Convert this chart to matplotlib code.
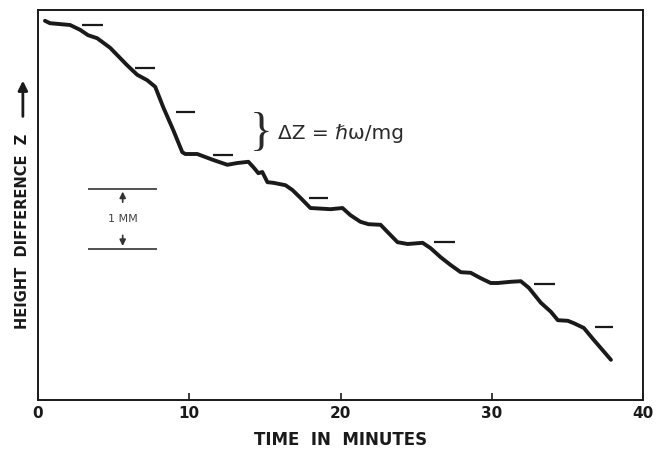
import matplotlib
matplotlib.use("Agg")
import matplotlib.pyplot as plt

# height difference trace (minutes, mm)
time_min = [0.46, 0.79, 2.12, 2.78, 3.31, 3.91, 4.77, 5.89, 6.56, 7.22, 7.75, 8.28,
            8.94, 9.54, 9.74, 10.53, 11.59, 12.52, 13.18, 13.91, 14.24, 14.57, 14.83,
            15.17, 15.56, 16.36, 16.82, 17.35, 18.01, 19.34, 20.13, 20.66, 21.32, 21.85,
            22.65, 23.11, 23.77, 24.44, 25.43, 25.96, 26.62, 27.28, 27.95, 28.61, 29.27,
            29.93, 30.40, 31.26, 31.92, 32.45, 33.25, 33.91, 34.37, 35.03, 35.43, 36.09,
            36.75, 37.88]
height_mm = [6.32, 6.28, 6.25, 6.17, 6.08, 6.03, 5.87, 5.58, 5.42, 5.33, 5.22, 4.88,
             4.50, 4.13, 4.10, 4.10, 4.00, 3.92, 3.95, 3.97, 3.88, 3.78, 3.80,
             3.63, 3.62, 3.58, 3.50, 3.37, 3.20, 3.18, 3.20, 3.08, 2.97, 2.93,
             2.92, 2.80, 2.63, 2.60, 2.62, 2.53, 2.38, 2.25, 2.13, 2.12, 2.03,
             1.95, 1.95, 1.97, 1.98, 1.87, 1.62, 1.47, 1.33, 1.32, 1.28, 1.20,
             1.00, 0.67]

# expected step levels (short dashes)
step_start = [2.9, 6.4, 9.1, 11.6, 17.9, 26.2, 32.8, 36.8]
step_end = [4.3, 7.75, 10.4, 12.9, 19.2, 27.6, 34.2, 38.0]
step_level = [6.25, 5.53, 4.80, 4.08, 3.37, 2.63, 1.93, 1.22]

# 1 mm scale bar
scale_x = [3.3, 7.9]
scale_low, scale_high = 2.52, 3.52

x_ticks = [0, 10, 20, 30, 40]
INK = "#1a1a1a"

fig = plt.figure(figsize=(6.57, 4.49), dpi=100)
ax = fig.add_axes([38 / 657, 49 / 449, 605 / 657, 390 / 449])

ax.plot(time_min, height_mm, color=INK, lw=2.8, solid_joinstyle="round",
        solid_capstyle="round")
ax.hlines(step_level, step_start, step_end, color=INK, lw=1.6)

# scale bar
ax.hlines([scale_low, scale_high], scale_x[0], scale_x[1], color="#333333", lw=1.2)
mid = sum(scale_x) / 2
gap = scale_high - scale_low
ax.annotate("", xy=(mid, scale_high), xytext=(mid, scale_high - 0.27 * gap),
            arrowprops=dict(arrowstyle="-|>", color="#333333", lw=1.2, mutation_scale=9))
ax.annotate("", xy=(mid, scale_low), xytext=(mid, scale_low + 0.27 * gap),
            arrowprops=dict(arrowstyle="-|>", color="#333333", lw=1.2, mutation_scale=9))
ax.text(mid, (scale_low + scale_high) / 2, "1 MM", ha="center", va="center",
        fontsize=8, color="#444444")

# brace and quantum step label
brace_y = (step_level[2] + step_level[3]) / 2
ax.text(14.75, brace_y, "}", ha="center", va="center", fontsize=34,
        family="Liberation Serif", color="#2a2a2a")
ax.text(15.9, brace_y, "ΔZ = ℏω/mg", ha="left", va="center", fontsize=14.5,
        color="#2a2a2a")

ax.set_xlim(0, 40)
ax.set_ylim(0, 6.5)
ax.set_xticks(x_ticks)
ax.set_yticks([])
ax.tick_params(axis="x", direction="in", length=5, width=1.2, pad=4.5,
               labelsize=11, colors=INK)
for lab in ax.get_xticklabels():
    lab.set_fontweight("bold")
for side in ax.spines.values():
    side.set_linewidth(1.4)
    side.set_color(INK)

ax.set_xlabel("TIME  IN  MINUTES", fontsize=12, fontweight="bold", color=INK,
              labelpad=7)
ax.set_ylabel("HEIGHT  DIFFERENCE  Z", fontsize=10.5, fontweight="bold", color=INK,
              va="center")
ax.yaxis.set_label_coords(-0.025, 0.432)
ax.annotate("", xy=(-0.025, 0.826), xytext=(-0.025, 0.72), xycoords="axes fraction",
            annotation_clip=False,
            arrowprops=dict(arrowstyle="-|>", color=INK, lw=2.0, mutation_scale=14))

fig.savefig("out.png", dpi=100)
